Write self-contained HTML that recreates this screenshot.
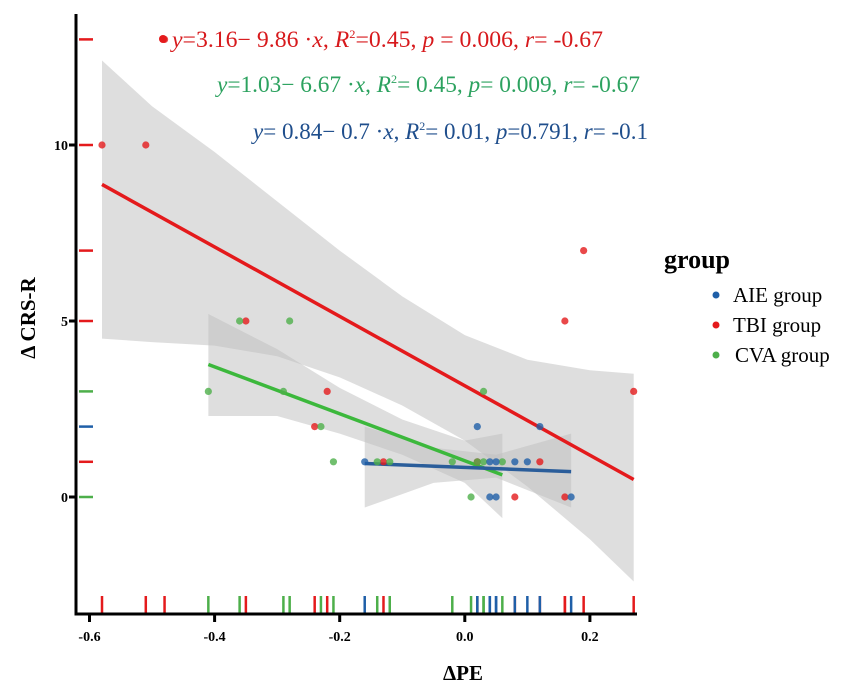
<!DOCTYPE html>
<html><head><meta charset="utf-8"><style>
html,body{margin:0;padding:0;background:#fff;}
svg{display:block;font-family:"Liberation Serif",serif;}
</style></head><body>
<svg id="chart" width="851" height="686" viewBox="0 0 851 686" xmlns="http://www.w3.org/2000/svg">
<g id="bands"></g>
<g id="lines"></g>
<g id="points"></g>
<g id="rugs"></g>
<g id="axes"></g>
<g font-size="23">
  <circle cx="163" cy="39" r="4" fill="#e41a1c"/>
  <text x="172" y="47" fill="#d7191c" textLength="431" lengthAdjust="spacingAndGlyphs"><tspan font-style="italic">y</tspan>=3.16− 9.86 ·<tspan font-style="italic">x</tspan>, <tspan font-style="italic">R</tspan><tspan font-size="12" dy="-9">2</tspan><tspan dy="9">=0.45, </tspan><tspan font-style="italic">p</tspan> = 0.006,  <tspan font-style="italic">r</tspan>= -0.67</text>
  <text x="217" y="92" fill="#2ca25f" textLength="423" lengthAdjust="spacingAndGlyphs"><tspan font-style="italic">y</tspan>=1.03−  6.67 ·<tspan font-style="italic">x</tspan>, <tspan font-style="italic">R</tspan><tspan font-size="12" dy="-9">2</tspan><tspan dy="9">= 0.45, </tspan><tspan font-style="italic">p</tspan>= 0.009,  <tspan font-style="italic">r</tspan>= -0.67</text>
  <text x="253" y="139" fill="#1f4e8c" textLength="395" lengthAdjust="spacingAndGlyphs"><tspan font-style="italic">y</tspan>= 0.84− 0.7 ·<tspan font-style="italic">x</tspan>, <tspan font-style="italic">R</tspan><tspan font-size="12" dy="-9">2</tspan><tspan dy="9">= 0.01, </tspan><tspan font-style="italic">p</tspan>=0.791,  <tspan font-style="italic">r</tspan>= -0.1</text>
</g>
<g>
  <text x="664" y="268" font-size="26" font-weight="bold">group</text>
  <circle cx="716" cy="295" r="3.5" fill="#1f5fa8"/>
  <text x="733" y="302" font-size="21">AIE group</text>
  <circle cx="716" cy="325" r="3.5" fill="#e41a1c"/>
  <text x="733" y="332" font-size="21">TBI group</text>
  <circle cx="716" cy="355" r="3.5" fill="#4daf4a"/>
  <text x="735" y="362" font-size="21">CVA group</text>
</g>
<text transform="translate(35,318) rotate(-90)" text-anchor="middle" font-size="21" font-weight="bold">Δ CRS-R</text>
<text x="463" y="680" text-anchor="middle" font-size="21" font-weight="bold">ΔPE</text>
</svg>
<script>
const tbiX=[-0.58,-0.51,-0.48,-0.35,-0.24,-0.22,-0.13,0.02,0.08,0.12,0.16,0.16,0.19,0.27];
const tbiY=[10,10,13,5,2,3,1,1,0,1,5,0,7,3];
const cvaX=[-0.41,-0.36,-0.29,-0.28,-0.23,-0.21,-0.14,-0.12,-0.02,0.01,0.02,0.03,0.03,0.06];
const cvaY=[3,5,3,5,2,1,1,1,1,0,1,3,1,1];
const aieX=[-0.16,0.02,0.04,0.04,0.05,0.05,0.08,0.10,0.12,0.17];
const aieY=[1,2,1,0,0,1,1,1,2,0];
const yRugValues=[13,10,7,5,3,2,1,0];
const yRugGroups=["tbi","tbi","tbi","tbi","cva","aie","tbi","cva"];
const fitIntercept=[3.16,1.03,0.84];
const fitSlope=[-9.86,-6.67,-0.7];
const fitRange=[[-0.58,0.27],[-0.41,0.06],[-0.16,0.17]];
const tbiBandX=[-0.58,-0.5,-0.4,-0.3,-0.2,-0.1,0,0.1,0.2,0.27];
const tbiBandUp=[12.4,11.1,9.8,8.4,7.0,5.7,4.6,3.9,3.6,3.5];
const tbiBandLo=[4.5,4.4,4.3,4.0,3.4,2.6,1.6,0.3,-1.2,-2.4];
const cvaBandX=[-0.41,-0.3,-0.2,-0.1,0,0.06];
const cvaBandUp=[5.2,4.2,3.1,2.2,1.6,1.8];
const cvaBandLo=[2.3,2.3,1.8,1.2,0.4,-0.6];
const aieBandX=[-0.16,-0.05,0.05,0.17];
const aieBandUp=[2.0,1.4,1.2,1.8];
const aieBandLo=[-0.3,0.4,0.55,-0.3];
const xTicks=[-0.6,-0.4,-0.2,0.0,0.2];
const xTickLabels=["-0.6","-0.4","-0.2","0.0","0.2"];
const yTicks=[0,5,10];
const yTickLabels=["0","5","10"];

const NS="http://www.w3.org/2000/svg";
const xs=v=>89.5+(v+0.6)*625.5;
const ys=v=>497-v*35.2;
const cols={tbi:"#e41a1c",cva:"#4daf4a",aie:"#1f5fa8"};
const lineCols=["#e41a1c","#3cb83c","#2a5d9a"];
function mk(tag,attrs,parent){const e=document.createElementNS(NS,tag);for(const k in attrs)e.setAttribute(k,attrs[k]);parent.appendChild(e);return e;}
const gB=document.getElementById('bands'),gL=document.getElementById('lines'),gP=document.getElementById('points'),gR=document.getElementById('rugs'),gA=document.getElementById('axes');
function band(bx,up,lo,name){
  let d="M"+bx.map((x,i)=>xs(x)+","+ys(up[i])).join(" L");
  for(let i=bx.length-1;i>=0;i--)d+=" L"+xs(bx[i])+","+ys(lo[i]);
  const p=mk('path',{d:d+"Z",fill:"#bdbdbd","fill-opacity":"0.5"},gB);
  
  
}
band(tbiBandX,tbiBandUp,tbiBandLo,'tbi-confidence-band');
band(cvaBandX,cvaBandUp,cvaBandLo,'cva-confidence-band');
band(aieBandX,aieBandUp,aieBandLo,'aie-confidence-band');
const lineNames=['tbi-fit-line','cva-fit-line','aie-fit-line'];
for(let i=0;i<3;i++){
  const [a,b]=fitRange[i];
  const l=mk('line',{x1:xs(a),y1:ys(fitIntercept[i]+fitSlope[i]*a),x2:xs(b),y2:ys(fitIntercept[i]+fitSlope[i]*b),stroke:lineCols[i],"stroke-width":3.5},gL);
  
  
}
function pts(X,Y,c,name){
  X.forEach((x,i)=>{
    const p=mk('circle',{cx:xs(x),cy:ys(Y[i]),r:3.6,fill:c,"fill-opacity":"0.8"},gP);
    
    
    const r=mk('line',{x1:xs(x),x2:xs(x),y1:596,y2:613,stroke:c,"stroke-width":2.5},gR);
    
    
  });
}
pts(tbiX,tbiY,cols.tbi,'tbi-point');
pts(cvaX,cvaY,cols.cva,'cva-point');
pts(aieX,aieY,cols.aie,'aie-point');
yRugValues.forEach((v,i)=>{
  const r=mk('line',{x1:79,x2:93,y1:ys(v),y2:ys(v),stroke:cols[yRugGroups[i]],"stroke-width":2.5},gR);
  
  
});
let ax=mk('path',{d:"M76,14 L76,614 L637,614",fill:"none",stroke:"#000","stroke-width":3},gA);


xTicks.forEach((v,i)=>{
  const t=mk('line',{x1:xs(v),x2:xs(v),y1:614,y2:622,stroke:"#000","stroke-width":3},gA);
  
  
  const tx=mk('text',{x:xs(v),y:641,"text-anchor":"middle","font-size":"14","font-weight":"bold"},gA);
  tx.textContent=xTickLabels[i];
  
  
});
yTicks.forEach((v,i)=>{
  const t=mk('line',{x1:69,x2:76,y1:ys(v),y2:ys(v),stroke:"#000","stroke-width":3},gA);
  
  
  const tx=mk('text',{x:68,y:ys(v)+5,"text-anchor":"end","font-size":"14","font-weight":"bold"},gA);
  tx.textContent=yTickLabels[i];
  
  
});
</script>
</body></html>
